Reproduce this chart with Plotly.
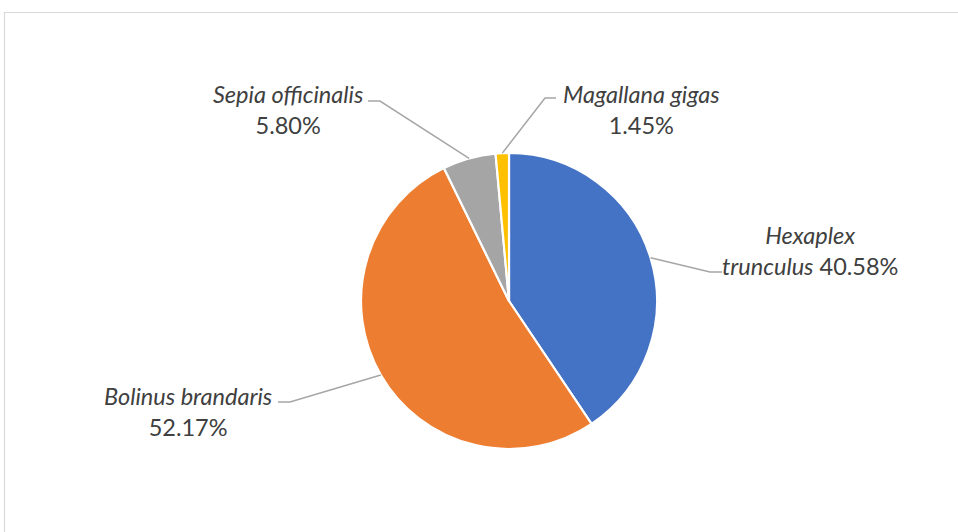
import math
import plotly.graph_objects as go

species = ["Hexaplex trunculus", "Bolinus brandaris", "Sepia officinalis", "Magallana gigas"]
counts = [28, 36, 4, 1]
colors = ["#4472C4", "#ED7D31", "#A5A5A5", "#FFC000"]

W, H = 958, 532
CX, CY, R = 509, 301, 148

def px(x):
    return x / W

def py(y):
    return 1 - y / H

fig = go.Figure(go.Pie(
    labels=species, values=counts, sort=False, direction="clockwise", rotation=0,
    marker=dict(colors=colors, line=dict(color="white", width=2.2)),
    textinfo="none", hoverinfo="label+percent", showlegend=False,
    domain=dict(x=[px(CX - R), px(CX + R)], y=[py(CY + R), py(CY - R)]),
))

total = sum(counts)
pcts = [c / total * 100 for c in counts]

# label layout: (text center x, block center y, elbow x, elbow y, horizontal end x)
label_layout = {
    "Hexaplex trunculus": dict(tx=810, ty=251, ex=710, ey=272, hx=722),
    "Bolinus brandaris": dict(tx=188, ty=411, ex=290, ey=402, hx=278),
    "Sepia officinalis": dict(tx=288, ty=110, ex=380, ey=101, hx=368),
    "Magallana gigas": dict(tx=641, ty=109, ex=545, ey=98, hx=556),
}

cum = 0
shapes = []
annotations = []
for name, c, p in zip(species, counts, pcts):
    mid = (cum + c / 2) / total
    cum += c
    ang = 2 * math.pi * mid
    sx = CX + R * math.sin(ang)
    sy = CY - R * math.cos(ang)
    L = label_layout[name]
    shapes.append(dict(
        type="path", xref="paper", yref="paper",
        path=f"M {px(sx)} {py(sy)} L {px(L['ex'])} {py(L['ey'])} L {px(L['hx'])} {py(L['ey'])}",
        line=dict(color="#A6A6A6", width=1.5),
    ))
    if name == "Hexaplex trunculus":
        parts = name.split(" ")
        txt = f"<i>{parts[0]}</i><br><i>{parts[1]}</i> {p:.2f}%"
    else:
        txt = f"<i>{name}</i><br>{p:.2f}%"
    annotations.append(dict(
        x=px(L["tx"]), y=py(L["ty"]), xref="paper", yref="paper",
        text=txt, showarrow=False, xanchor="center", yanchor="middle", align="center",
        font=dict(family="Lato", size=23.5, color="#404040"),
    ))

# chart area border
shapes.append(dict(type="rect", xref="paper", yref="paper",
                   x0=px(4.5), y0=py(540), x1=px(970), y1=py(12.5),
                   line=dict(color="#D9D9D9", width=1.2), fillcolor="rgba(0,0,0,0)"))

fig.update_layout(
    width=W, height=H, margin=dict(l=0, r=0, t=0, b=0),
    paper_bgcolor="white", plot_bgcolor="white",
    shapes=shapes, annotations=annotations,
)
fig.write_html(
    "out.html",
    config={"displayModeBar": False},
    post_script="document.body.style.margin='0';document.body.style.overflow='hidden';",
)
